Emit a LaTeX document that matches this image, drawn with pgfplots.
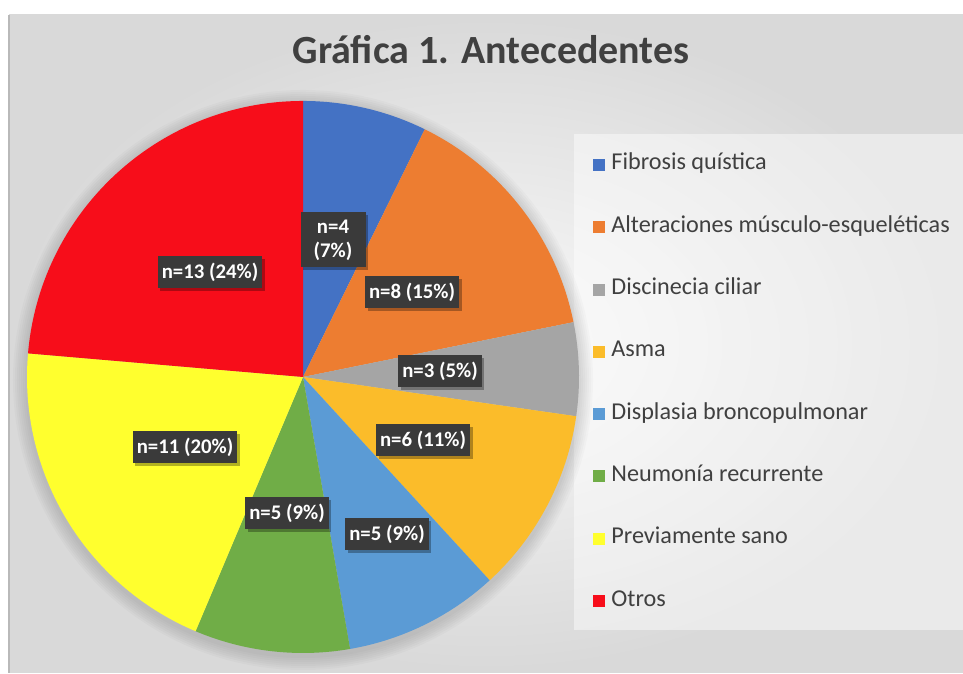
\documentclass[border=0pt]{standalone}
\usepackage{pgfplots}
\pgfplotsset{compat=1.18}
\usepackage{fontspec}
\setmainfont{Carlito}
\definecolor{cFib}{HTML}{4472C4}
\definecolor{cAlt}{HTML}{ED7D31}
\definecolor{cDis}{HTML}{A5A5A5}
\definecolor{cAsm}{HTML}{FBBC2A}
\definecolor{cDys}{HTML}{5B9BD5}
\definecolor{cNeu}{HTML}{70AD47}
\definecolor{cPre}{HTML}{FFFF2E}
\definecolor{cOtr}{HTML}{F70D1A}
\definecolor{txt}{HTML}{404040}
\definecolor{lblbg}{HTML}{3A3A3A}
% slice: #1 cumulative count before, #2 count, #3 colour (total 55)
\newcommand\slice[3]{\pgfplotsextra{%
  \begin{pgfscope}%
  \pgfmathsetmacro\sa{90-#1/55*360}%
  \pgfmathsetmacro\sb{90-(#1+#2)/55*360}%
  \pgfpathmoveto{\pgfplotspointaxisxy{303}{296}}%
  \pgfpathlineto{\pgfpointadd{\pgfplotspointaxisxy{303}{296}}{\pgfpointpolar{\sa}{138bp}}}%
  \pgfpatharc{\sa}{\sb}{138bp}%
  \pgfpathclose
  \pgfsetfillcolor{#3}\pgfusepath{fill}%
  \end{pgfscope}}}
% data label with shadow
\newcommand\lbl[3]{%
  \node[lbl, fill=black, opacity=0.3, text opacity=0, xshift=1.3bp, yshift=-1.3bp] at (axis cs:#1,#2) {#3};
  \node[lbl] at (axis cs:#1,#2) {#3};}
% legend item: #1 colour, #2 square bottom, #3 square top, #4 baseline, #5 text
\newcommand\legitem[5]{%
  \fill[#1] (593,#2) rectangle (605,#3);
  \node[anchor=base west, inner sep=0pt, text=txt, font=\fontsize{12.1bp}{14bp}\selectfont] at (611,#4) {#5};}
\tikzset{lbl/.style={fill=lblbg, text=white, font=\fontsize{10.4bp}{12bp}\selectfont\bfseries,
  inner xsep=2bp, minimum height=15bp, align=center}}
\begin{document}
\begin{tikzpicture}
\begin{scope}[x=0.5bp, y=0.5bp]
\fill[white] (0,0) rectangle (963,673);
\shade[inner color=gray!4, outer color=gray!30] (9,0) rectangle (963,658);
\draw[gray!55, line width=0.6bp] (9,0) -- (9,658);
% legend box
\fill[white, opacity=0.45] (574,43) rectangle (963,539);
% pie shadow
\fill[black, opacity=0.018] (303,293) circle[radius=145bp];
\fill[black, opacity=0.018] (303,293) circle[radius=144bp];
\fill[black, opacity=0.018] (303,293) circle[radius=143bp];
\fill[black, opacity=0.018] (303,293) circle[radius=142bp];
\fill[black, opacity=0.018] (303,293) circle[radius=141bp];
\fill[black, opacity=0.018] (303,293) circle[radius=140bp];
\fill[black, opacity=0.018] (303,293) circle[radius=139bp];
\end{scope}
\begin{axis}[scale only axis, width=481.5bp, height=336.5bp, at={(0,0)}, anchor=south west,
  xmin=0, xmax=963, ymin=0, ymax=673, hide axis, clip=false]
% pie slices (counts: 4, 8, 3, 6, 5, 5, 11, 13)
\slice{0}{4}{cFib}
\slice{4}{8}{cAlt}
\slice{12}{3}{cDis}
\slice{15}{6}{cAsm}
\slice{21}{5}{cDys}
\slice{26}{5}{cNeu}
\slice{31}{11}{cPre}
\slice{42}{13}{cOtr}
% data labels
\node[lbl, fill=black, opacity=0.3, text opacity=0, xshift=1.3bp, yshift=-1.3bp, minimum width=32.5bp, minimum height=27.5bp] at (axis cs:333,433) {n=4\\(7\%)};
\node[lbl, minimum width=32.5bp, minimum height=27.5bp] at (axis cs:333,433) {n=4\\(7\%)};
\lbl{412}{381}{n=8 (15\%)}
\lbl{440}{302}{n=3 (5\%)}
\lbl{423}{233}{n=6 (11\%)}
\lbl{387}{139}{n=5 (9\%)}
\lbl{287}{160}{n=5 (9\%)}
\lbl{185}{226}{n=11 (20\%)}
\lbl{210}{401}{n=13 (24\%)}
\end{axis}
\begin{scope}[x=0.5bp, y=0.5bp]
% legend
\legitem{cFib}{502}{514}{503}{Fibrosis quística}
\legitem{cAlt}{439.7}{451.7}{440.7}{Alteraciones músculo-esqueléticas}
\legitem{cDis}{377.4}{389.4}{378.4}{Discinecia ciliar}
\legitem{cAsm}{315.1}{327.1}{316.1}{Asma}
\legitem{cDys}{252.8}{264.8}{253.8}{Displasia broncopulmonar}
\legitem{cNeu}{190.5}{202.5}{191.5}{Neumonía recurrente}
\legitem{cPre}{128.2}{140.2}{129.2}{Previamente sano}
\legitem{cOtr}{65.9}{77.9}{66.9}{Otros}
% title
\node[anchor=base, inner sep=0pt, text=txt, font=\fontsize{20bp}{24bp}\selectfont\bfseries] at (491,609) {Gráfica 1. Antecedentes};
\end{scope}
\end{tikzpicture}
\end{document}
